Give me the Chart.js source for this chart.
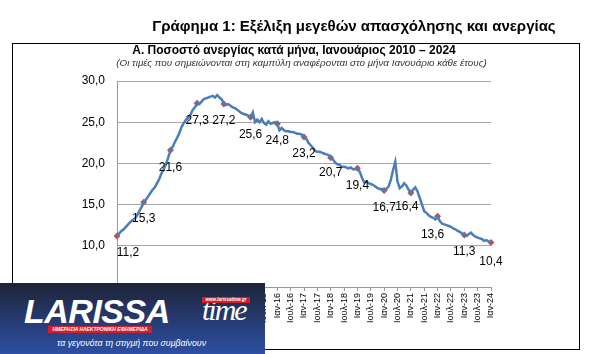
<!DOCTYPE html>
<html lang="el">
<head>
<meta charset="utf-8">
<title>Ποσοστό ανεργίας κατά μήνα</title>
<script src="https://cdn.jsdelivr.net/npm/chart.js@4.4.1/dist/chart.umd.min.js"></script>
<style>
  html, body { margin: 0; padding: 0; background: #fff; }
  body { width: 589px; height: 354px; position: relative; overflow: hidden; font-family: "Liberation Sans", Arial, sans-serif; }
  #chart { position: absolute; left: 0; top: 0; }
  .txt { position: absolute; white-space: nowrap; color: #000; }
  #mainTitle { left: 0; width: 708px; top: 17px; text-align: center; font-weight: bold; font-size: 15px; }
  #frame { position: absolute; left: 12px; top: 43px; width: 566px; height: 305px; border: 1.5px solid #000; }
  #sub1 { left: 0; width: 588px; top: 43px; text-align: center; font-weight: bold; font-size: 12px; }
  #sub2 { left: 0; width: 603px; top: 57px; text-align: center; font-style: italic; font-size: 9.8px; color: #333; }
  #logo { position: absolute; left: 0; top: 283px; width: 265px; height: 71px;
          background: linear-gradient(#1e2438, #2d4fa3); overflow: hidden; }
  #logo .big { position: absolute; left: 24px; top: 9px; font: italic bold 34px "Liberation Sans", Arial, sans-serif; color: #fff; letter-spacing: -0.5px; }
  #logo .time { position: absolute; left: 202px; top: 10px; font: italic 30px "Liberation Serif", serif; color: #fff; letter-spacing: -2px; }
  #logo .url { position: absolute; left: 202px; top: 14px; width: 48px; height: 6px; background: #d0202a; color: #fff; font: italic bold 4.5px Arial, sans-serif; line-height: 6px; text-align: center; white-space: nowrap; }
  #logo .red { position: absolute; left: 48px; top: 43px; width: 104px; height: 7px; background: #d0202a; color: #fff; font: italic bold 5px Arial, sans-serif; line-height: 7px; text-align: center; white-space: nowrap; }
  #logo .tag { position: absolute; left: 57px; top: 55px; font: italic 8.8px "Liberation Sans", Arial, sans-serif; color: #fff; white-space: nowrap; }
</style>
</head>
<body>
<canvas id="chart" width="589" height="354"></canvas>
<div id="frame"></div>
<div class="txt" id="mainTitle">Γράφημα 1: Εξέλιξη μεγεθών απασχόλησης και ανεργίας</div>
<div class="txt" id="sub1">Α. Ποσοστό ανεργίας κατά μήνα, Ιανουάριος 2010 – 2024</div>
<div class="txt" id="sub2">(Οι τιμές που σημειώνονται στη καμπύλη αναφέρονται στο μήνα Ιανουάριο κάθε έτους)</div>
<div id="logo">
  <div class="big">LARISSA</div>
  <div class="time">time</div>
  <div class="url">www.larissatime.gr</div>
  <div class="red">ΗΜΕΡΗΣΙΑ ΗΛΕΚΤΡΟΝΙΚΗ ΕΦΗΜΕΡΙΔΑ</div>
  <div class="tag">τα γεγονότα τη στιγμή που συμβαίνουν</div>
</div>
<script>
// Month names used in the axis labels
const monthNames = ['Ιαν', 'Φεβ', 'Μαρ', 'Απρ', 'Μαϊ', 'Ιουν', 'Ιουλ', 'Αυγ', 'Σεπ', 'Οκτ', 'Νοε', 'Δεκ'];
const years = [2010, 2011, 2012, 2013, 2014, 2015, 2016, 2017, 2018, 2019, 2020, 2021, 2022, 2023, 2024];

// Unemployment rate (%) per month
const rate2010 = [11.2, 11.5, 11.8, 12.0, 12.3, 12.6, 12.9, 13.1, 13.3, 13.7, 14.2, 14.7];
const rate2011 = [15.3, 15.6, 16.0, 16.4, 16.8, 17.1, 17.6, 18.1, 18.8, 19.3, 19.9, 20.7];
const rate2012 = [21.6, 22.0, 22.6, 23.1, 23.7, 24.4, 24.9, 25.3, 25.5, 25.9, 26.5, 26.8];
const rate2013 = [27.3, 27.2, 27.5, 27.8, 27.9, 28.0, 28.1, 28.2, 28.0, 28.3, 28.0, 27.8];
const rate2014 = [27.2, 27.1, 27.2, 27.0, 26.8, 26.7, 26.5, 26.3, 26.1, 26.0, 25.9, 25.8];
const rate2015 = [25.6, 26.2, 25.0, 25.3, 25.0, 25.4, 24.9, 24.7, 25.1, 24.8, 24.9, 25.0];
const rate2016 = [24.8, 24.0, 24.3, 24.0, 23.9, 23.9, 23.8, 23.8, 23.7, 23.6, 23.6, 23.5];
const rate2017 = [23.2, 23.0, 22.5, 22.2, 21.9, 21.5, 21.4, 21.4, 21.3, 21.2, 21.1, 21.0];
const rate2018 = [20.7, 20.5, 20.1, 19.9, 19.8, 19.6, 19.6, 19.5, 19.4, 19.5, 19.3, 19.3];
const rate2019 = [19.4, 19.0, 18.3, 17.7, 17.8, 17.6, 17.5, 17.4, 17.2, 17.0, 16.9, 16.9];
const rate2020 = [16.7, 16.9, 17.2, 18.0, 19.2, 20.2, 17.8, 17.0, 17.2, 17.6, 17.3, 16.8];
const rate2021 = [16.4, 16.8, 17.1, 16.6, 15.8, 15.0, 14.2, 14.0, 13.7, 13.5, 13.4, 13.2];
const rate2022 = [13.6, 13.0, 12.7, 12.6, 12.5, 12.4, 12.3, 12.1, 12.0, 11.8, 11.7, 11.5];
const rate2023 = [11.3, 11.2, 11.4, 11.6, 11.3, 11.1, 11.0, 10.9, 10.8, 10.6, 10.7, 10.5];
const rate2024 = [10.4];

const yTicks = [5, 10, 15, 20, 25, 30];

// Building the full monthly series
const rates = [].concat(rate2010, rate2011, rate2012, rate2013, rate2014, rate2015, rate2016,
    rate2017, rate2018, rate2019, rate2020, rate2021, rate2022, rate2023, rate2024);
const labels = rates.map((_, i) => monthNames[i % 12] + '-' + String(years[Math.floor(i / 12)]).slice(2));
// January values get a marker and a label
const januaryRates = rates.map((v, i) => i % 12 === 0 ? v : null);

// Small shifts for some of the January labels
const labelShift = { 0: 11, 1: -1, 132: -4, 144: -5 };
const labelDrop = { 0: 17, 96: 15, 132: 14, 144: 19, 168: 19 };

const januaryLabels = {
    id: 'januaryLabels',
    afterDatasetsDraw(chart) {
        const ctx = chart.ctx;
        const meta = chart.getDatasetMeta(1);
        ctx.save();
        ctx.font = '12px "Liberation Sans", Arial, sans-serif';
        ctx.fillStyle = '#000';
        ctx.textAlign = 'center';
        ctx.textBaseline = 'middle';
        meta.data.forEach((pt, i) => {
            const v = januaryRates[i];
            if (v === null) return;
            const dx = labelShift[i] || 0;
            const dy = labelDrop[i] || 17;
            ctx.fillText(v.toFixed(1).replace('.', ','), pt.x + dx, pt.y + dy);
        });
        ctx.restore();
    }
};

Chart.defaults.font.family = '"Liberation Sans", Arial, sans-serif';

new Chart(document.getElementById('chart'), {
    type: 'line',
    data: {
        labels: labels,
        datasets: [{
            data: rates,
            borderColor: '#4a7ebb',
            borderWidth: 2.5,
            pointRadius: 0,
            tension: 0,
            fill: false
        }, {
            data: januaryRates,
            showLine: false,
            pointStyle: 'rectRot',
            pointRadius: 3.5,
            pointBackgroundColor: '#c0504d',
            pointBorderColor: '#c0504d',
            pointBorderWidth: 0
        }]
    },
    options: {
        responsive: false,
        animation: false,
        devicePixelRatio: 1,
        layout: { padding: { left: 77, right: 98, top: 81, bottom: 7 } },
        plugins: {
            legend: { display: false },
            tooltip: { enabled: false },
            title: { display: false }
        },
        scales: {
            x: {
                type: 'category',
                offset: false,
                afterFit: (scale) => { scale.height = 60; },
                grid: {
                    drawOnChartArea: false,
                    drawTicks: true,
                    tickLength: 4,
                    color: (c) => c.index % 6 === 0 ? '#999' : 'rgba(0,0,0,0)'
                },
                border: { display: true, color: '#999', width: 1 },
                ticks: {
                    autoSkip: false,
                    maxRotation: 90,
                    minRotation: 90,
                    padding: 2,
                    color: '#000',
                    font: { size: 9 },
                    callback: function (value, index) {
                        return index % 6 === 0 ? labels[index] : '';
                    }
                }
            },
            y: {
                min: 5,
                max: 30,
                afterFit: (scale) => { scale.width = 40; },
                afterBuildTicks: (scale) => { scale.ticks = yTicks.map(v => ({ value: v })); },
                grid: { color: '#a6a6a6', lineWidth: 1, drawTicks: false },
                border: { display: true, color: '#999' },
                ticks: {
                    padding: 12,
                    color: '#000',
                    font: { size: 12 },
                    // the bottom label is hidden under the logo in the original
                    callback: (v) => v === 5 ? '' : v.toFixed(1).replace('.', ',')
                }
            }
        }
    },
    plugins: [januaryLabels]
});
</script>
</body>
</html>
